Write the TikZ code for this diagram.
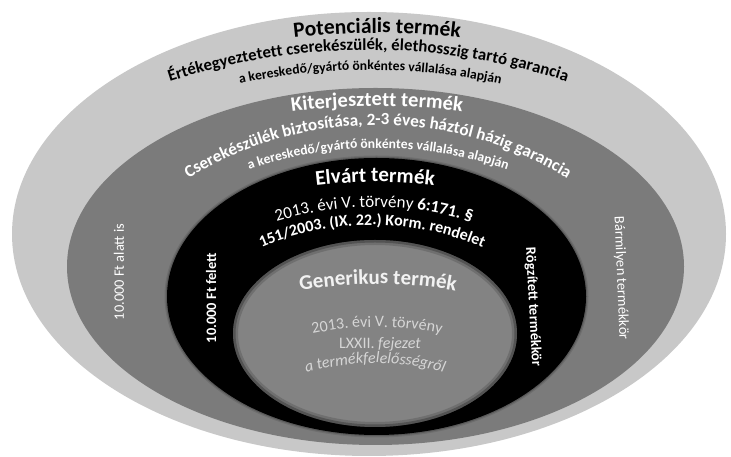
\documentclass[tikz,border=0pt]{standalone}
\usepackage{fontspec}
\setmainfont{Carlito}
\usetikzlibrary{decorations.text}
\newcommand\fsz[1]{\fontsize{#1}{#1}\selectfont}
\definecolor{ringA}{HTML}{C8C8C8}
\definecolor{ringB}{HTML}{7B7B7B}
\definecolor{ringC}{HTML}{000000}
\definecolor{ringD}{HTML}{838383}
\definecolor{gentext}{HTML}{D6D6D6}
\definecolor{genhead}{HTML}{F2F2F2}
% #1 cx, #2 CY, #3 R, #4 half angle, #5 colour, #6 format, #7 text
\newcommand\arcline[7]{%
  \path[decorate,decoration={text along path,text align=center,text color=#5,text={|#6|#7}}]
    ([shift={(90+#4:#3pt)}]#1pt,#2pt) arc[start angle=90+#4,end angle=90-#4,radius=#3pt];}
\tikzset{
  vtext/.style={text=white,inner sep=0pt,font=\fsz{14.4}},
  softedge/.style={draw=black,draw opacity=#1},
}
\begin{document}
\begin{tikzpicture}[x=1pt,y=1pt]
\useasboundingbox (0,0) rectangle (731,457);
\fill[white] (0,0) rectangle (731,457);
% rings
\fill[ringA] (369,223) ellipse[x radius=357, y radius=222];
\fill[ringB] (375.5,190.5) ellipse[x radius=308.5, y radius=178.5];
\path[softedge=0.10,line width=5pt] (376.5,160.5) ellipse[x radius=209.5, y radius=138.5];
\path[softedge=0.18,line width=2.5pt] (376.5,160.5) ellipse[x radius=209.5, y radius=138.5];
\fill[ringC] (376.5,160.5) ellipse[x radius=209.5, y radius=138.5];
\fill[ringD] (375,123.5) ellipse[x radius=142, y radius=93.5];
\begin{scope}
  \clip (375,123.5) ellipse[x radius=142, y radius=93.5];
  \path[softedge=0.15,line width=10pt] (375,123.5) ellipse[x radius=142, y radius=93.5];
  \path[softedge=0.25,line width=5pt] (375,123.5) ellipse[x radius=142, y radius=93.5];
\end{scope}
% Potencialis
\arcline{377}{-276}{700}{20}{black}{\fsz{21.5}\bfseries}{Potenciális termék}
\arcline{368}{-231}{638}{30}{black}{\fsz{16.8}\bfseries}{Értékegyeztetett cserekészülék, élethosszig tartó garancia}
\arcline{370}{-231}{618}{30}{black}{\fsz{13.6}\bfseries}{a kereskedő/gyártó önkéntes vállalása alapján}
% Kiterjesztett
\arcline{377}{-274}{625}{20}{white}{\fsz{20.5}\bfseries}{Kiterjesztett termék}
\arcline{378}{-30}{362}{50}{white}{\fsz{17.1}\bfseries}{Cserekészülék biztosítása, 2-3 éves háztól házig garancia}
\arcline{378}{-86}{395}{40}{white}{\fsz{13.6}\bfseries}{a kereskedő/gyártó önkéntes vállalása alapján}
% Elvart
\arcline{375}{-225}{500}{20}{white}{\fsz{21}\bfseries}{Elvárt termék}
\arcline{374}{-84}{334}{35}{white}{\fsz{17}}{2013. évi V. törvény |\fsz{17}\bfseries|6:171. §}
\arcline{372}{-48}{280}{40}{white}{\fsz{16}\bfseries}{151/2003. (IX. 22.) Korm. rendelet}
% Generikus
\arcline{378}{-277}{450}{20}{genhead}{\fsz{21}\bfseries}{Generikus termék}
\arcline{377}{-175}{305}{30}{gentext}{\fsz{16}}{2013. évi V. törvény}
\node[text=gentext,anchor=base,inner sep=0pt,font=\fsz{16}] (lxxii) at (380,108) {LXXII. \textit{fejezet}};
\arcline{375}{-147}{241}{40}{gentext}{\fsz{16}\itshape}{a termékfelelősségről}
% side labels
\node[vtext,rotate=90] (alatt) at (119,185) {10.000 Ft alatt is};
\node[vtext,rotate=90,font=\fsz{14.4}\bfseries] (felett) at (211,159) {10.000 Ft felett};
\node[vtext,rotate=-87.7] (barmilyen) at (621,179) {Bármilyen termékkör};
\node[vtext,rotate=-87,font=\fsz{14.4}\bfseries] (rogzitett) at (533,150) {Rögzített termékkör};
\end{tikzpicture}
\end{document}
